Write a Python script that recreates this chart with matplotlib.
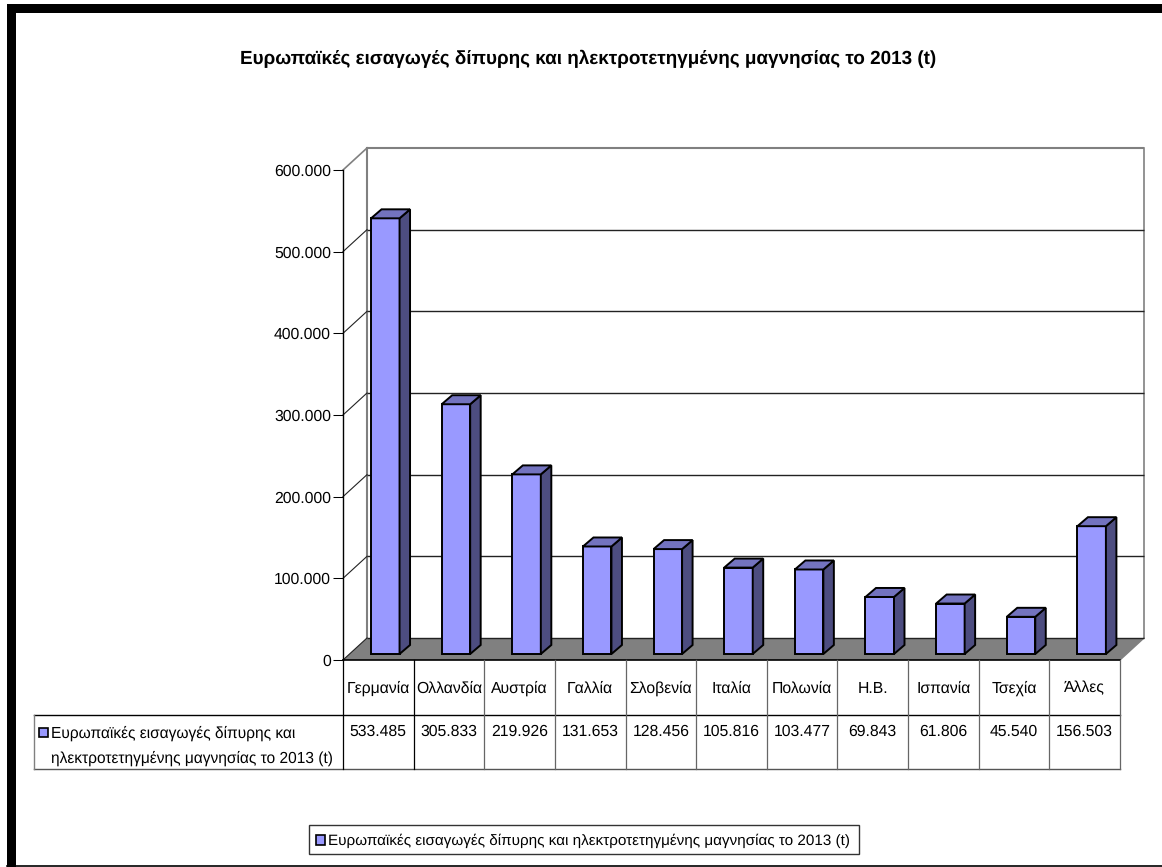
import matplotlib
matplotlib.use("Agg")
import matplotlib.pyplot as plt
from matplotlib.patches import Polygon, Rectangle
from matplotlib.ticker import FuncFormatter

plt.rcParams['font.family'] = ['Liberation Sans', 'DejaVu Sans']
plt.rcParams['text.hinting'] = 'none'

title = "Ευρωπαϊκές εισαγωγές δίπυρης και ηλεκτροτετηγμένης μαγνησίας το 2013 (t)"
series_lines = ["Ευρωπαϊκές εισαγωγές δίπυρης και", "ηλεκτροτετηγμένης μαγνησίας το 2013 (t)"]
categories = ["Γερμανία", "Ολλανδία", "Αυστρία", "Γαλλία", "Σλοβενία", "Ιταλία",
              "Πολωνία", "Η.Β.", "Ισπανία", "Τσεχία", "Άλλες"]
values = [533485, 305833, 219926, 131653, 128456, 105816, 103477, 69843, 61806, 45540, 156503]
yticks = [0, 100000, 200000, 300000, 400000, 500000, 600000]

W, H = 1162, 867
FS = 11.3
FS_ROW = 11.2
FS_LEG = 10.97
FRONT, SIDE, TOP = "#9999FF", "#4D4D80", "#7373BF"
GREY = "#808080"

fig = plt.figure(figsize=(W / 100, H / 100), dpi=100, facecolor="white")

# overlay in pixel coordinates: frame, table grid, legend, title
ov = fig.add_axes([0, 0, 1, 1], zorder=3)
ov.set_xlim(0, W); ov.set_ylim(H, 0); ov.axis("off"); ov.patch.set_alpha(0)

# chart axes = front plane
L, R, Y0, Y6 = 343, 1120, 660, 170
ax = fig.add_axes([L / W, 1 - Y0 / H, (R - L) / W, (Y0 - Y6) / H], zorder=2)
ax.set_xlim(0, len(categories)); ax.set_ylim(0, 600000)
ax.patch.set_alpha(0)
cw = (R - L) / len(categories)          # px per category
pv = (Y0 - Y6) / 600000                 # px per unit
ddx, ddy = 24 / cw, 22 / pv             # wall depth in data units
bdx, bdy = 10.5 / cw, 9 / pv            # bar depth in data units
off = 6 / pv                            # bar lift from the axis plane
n = len(categories)

for s in ("top", "right", "bottom"):
    ax.spines[s].set_visible(False)
ax.spines["left"].set_linewidth(1.0)
ax.set_xticks([])
ax.set_yticks(yticks)
ax.yaxis.set_major_formatter(FuncFormatter(lambda v, p: f"{v:,.0f}".replace(",", ".")))
ax.tick_params(axis="y", length=7.2, width=0.75, pad=1.5, labelsize=FS, color="black")

# floor
ax.add_patch(Polygon([(0, 0), (ddx, ddy), (n + ddx, ddy), (n, 0)], closed=True,
                     facecolor=GREY, edgecolor="none", clip_on=False, zorder=1))
# walls and gridlines
for v in yticks:
    top = v == 600000
    ax.plot([ddx, n + ddx], [v + ddy] * 2, color=GREY if top else "#222222",
            lw=1.5 if top else 1.0, clip_on=False, zorder=1.2, solid_capstyle="butt")
    ax.plot([0, ddx], [v, v + ddy], color=GREY if top else "#222222",
            lw=1.2 if top else 0.8, clip_on=False, zorder=1.2)
ax.plot([ddx, ddx], [ddy, 600000 + ddy], color=GREY, lw=1.5, clip_on=False, zorder=1.1)
ax.plot([n + ddx, n + ddx], [ddy, 600000 + ddy], color=GREY, lw=1.2, clip_on=False, zorder=1.1)
ax.plot([n, n + ddx], [0, ddy], color=GREY, lw=1.0, clip_on=False, zorder=1.1)

# bars
bw = 28.5 / cw
for i, v in enumerate(values):
    x0 = i + 0.397
    x1 = x0 + bw
    t = v + off
    ax.bar(x0, v, width=bw, bottom=off, align="edge", color=FRONT, edgecolor="black",
           linewidth=1.4, clip_on=False, zorder=3)
    ax.add_patch(Polygon([(x1, off), (x1 + bdx, off + bdy), (x1 + bdx, t + bdy), (x1, t)], closed=True,
                         facecolor=SIDE, edgecolor="black", lw=1.4, clip_on=False, zorder=3))
    ax.add_patch(Polygon([(x0, t), (x0 + bdx, t + bdy), (x1 + bdx, t + bdy), (x1, t)], closed=True,
                         facecolor=TOP, edgecolor="black", lw=1.4, clip_on=False, zorder=3))

# frame
ov.add_patch(Rectangle((7, 4), W - 7, 9, fc="black", ec="none"))
ov.add_patch(Rectangle((7, 4), 9, H - 4, fc="black", ec="none"))
ov.plot([7, W], [865.5, 865.5], color="black", lw=1.2)

# title
ov.text(588.5, 59, title, ha="center", va="center", fontsize=13.6, fontweight="bold")

# data table grid
T1, T2, T3, TL = 660, 715, 769, 34
xs = [L + i * cw for i in range(n + 1)]
ov.plot([L, R], [T1, T1], color="black", lw=1.2)
ov.plot([TL, R], [T2, T2], color="black", lw=1.0)
ov.plot([TL, R], [T3, T3], color="#555555", lw=1.0)
ov.plot([TL, TL], [T2, T3], color=GREY, lw=1.0)
for i, x in enumerate(xs):
    ov.plot([x, x], [T1, T3], color="black" if i < 2 else "#666666", lw=0.9)

for i, (c, v) in enumerate(zip(categories, values)):
    cx = L + (i + 0.5) * cw
    ov.text(cx, 688.5, c, ha="center", va="center", fontsize=FS)
    ov.text(cx, 731.5, f"{v:,.0f}".replace(",", "."), ha="center", va="center", fontsize=FS)

# row header
ov.add_patch(Rectangle((38.5, 727.5), 9, 9.5, fc=FRONT, ec="black", lw=1.2))
ov.text(51, 733.5, series_lines[0], ha="left", va="center", fontsize=FS_ROW)
ov.text(51, 758.5, series_lines[1], ha="left", va="center", fontsize=FS_ROW)

# legend
ov.add_patch(Rectangle((309, 825), 550, 29, fc="white", ec="#333333", lw=1.0))
ov.add_patch(Rectangle((315.5, 835), 9, 9.5, fc=FRONT, ec="black", lw=1.2))
ov.text(328, 840.5, title, ha="left", va="center", fontsize=FS_LEG)

fig.savefig("out.png", dpi=100, facecolor="white")
